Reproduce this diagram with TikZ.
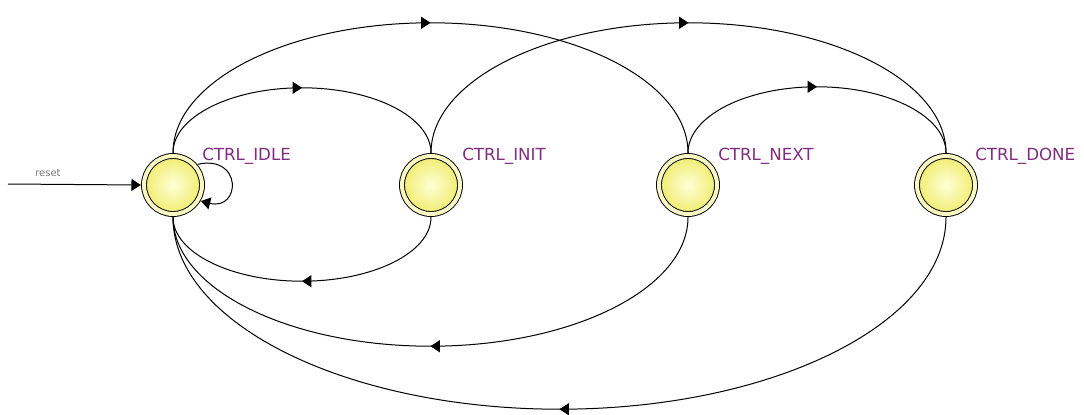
\documentclass[tikz,border=0pt]{standalone}
\usepackage{fontspec}
\setmainfont{DejaVu Sans}
\usetikzlibrary{arrows.meta,calc,decorations.markings}
\definecolor{lblc}{RGB}{128,45,128}
\definecolor{ringc}{RGB}{250,248,195}
\definecolor{fillin}{RGB}{255,255,215}
\definecolor{fillout}{RGB}{240,236,110}
\definecolor{resetc}{RGB}{120,120,120}
\tikzset{
  statenode/.style={circle, draw=black, line width=0.7pt, double=ringc, double distance=3pt,
    minimum size=43.5pt, inner sep=0pt, outer sep=2.4pt,
    shading=radial, inner color=fillin, outer color=fillout},
  lbl/.style={anchor=base west, inner sep=0pt, text=lblc, font=\fontsize{12.5}{14}\selectfont},
  edge/.style={draw=black, line width=0.75pt},
  tip/.tip={Triangle[length=7pt,width=9pt]},
  midarrow/.style={postaction={decorate}, decoration={markings, mark=at position 0.5 with {\arrow{tip}}}}
}
\newcommand\ellcurve[6]{%
  \draw[edge,midarrow] (#1.#3) .. controls +(0,0.5523*#6) and +(-0.5523*#5,0) .. ($(#1.#3)!0.5!(#2.#4)+(0,#6)$)
    .. controls +(0.5523*#5,0) and +(0,0.5523*#6) .. (#2.#4);}
\begin{document}
\begin{tikzpicture}[x=0.75pt,y=0.75pt]
\useasboundingbox (0,0) rectangle (1084,-414);
\node[statenode] (idle) at (173,-185) {};
\node[statenode] (init) at (431,-185) {};
\node[statenode] (next) at (688,-185) {};
\node[statenode] (done) at (946,-185) {};
\node[lbl] (lidle) at ($(idle.center)+(29,25)$) {CTRL\_IDLE};
\node[lbl] (linit) at ($(init.center)+(31,25)$) {CTRL\_INIT};
\node[lbl] (lnext) at ($(next.center)+(30,25)$) {CTRL\_NEXT};
\node[lbl] (ldone) at ($(done.center)+(29,25)$) {CTRL\_DONE};
% reset
\coordinate (rs) at (8,-184);
\draw[edge,-tip] (rs) -- (idle.west);
\node[text=resetc, font=\fontsize{7.5}{9}\selectfont, inner sep=0pt] (rlbl) at (48,-173) {reset};
% self loop
\draw[edge,-tip] (idle.40) .. controls +(45,10) and +(40,-10) .. (idle.-30);
% top edges
\ellcurve{idle}{init}{north}{north}{129}{65}
\ellcurve{idle}{next}{north}{north}{257.5}{130}
\ellcurve{init}{done}{north}{north}{257.5}{130}
\ellcurve{next}{done}{north}{north}{129}{66}
% bottom edges
\ellcurve{init}{idle}{south}{south}{-129}{-64}
\ellcurve{next}{idle}{south}{south}{-257.5}{-129}
\ellcurve{done}{idle}{south}{south}{-386.5}{-192}
\end{tikzpicture}
\end{document}
